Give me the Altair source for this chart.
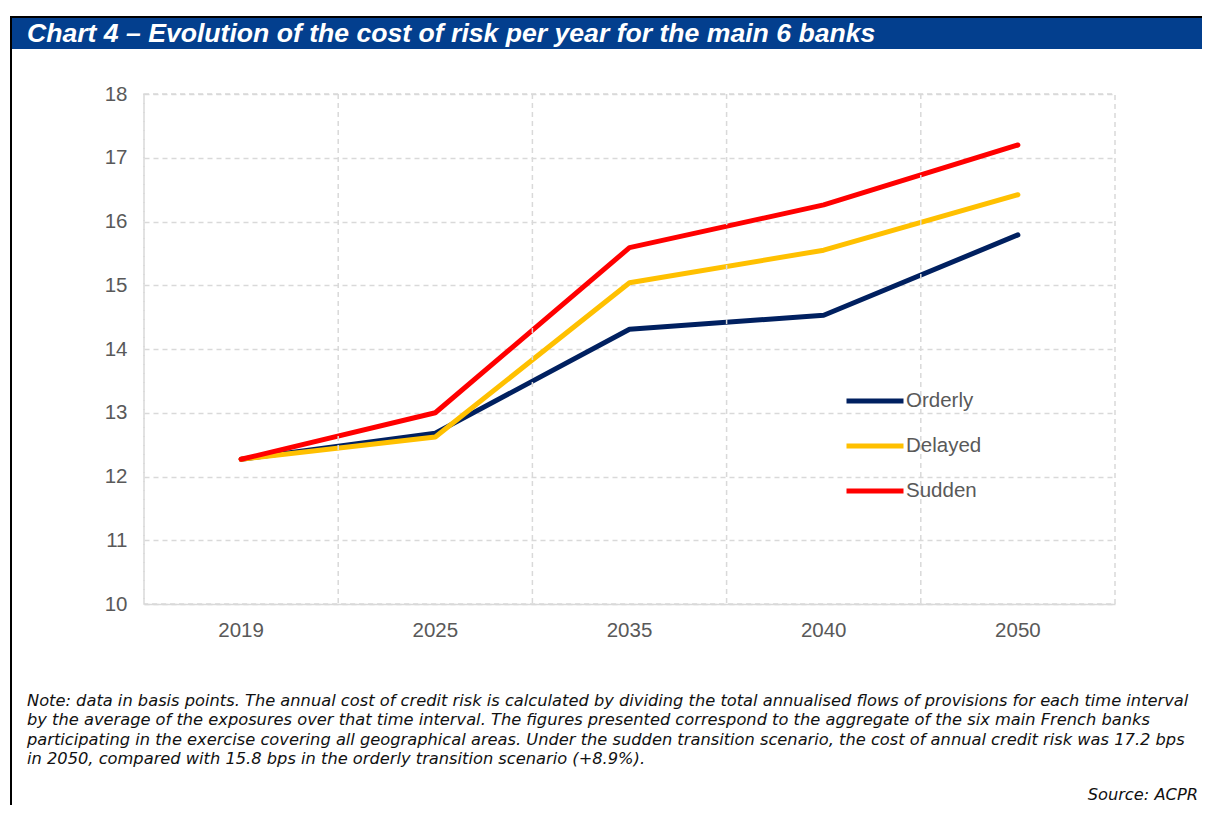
import altair as alt
import pandas as pd

years = ["2019", "2025", "2035", "2040", "2050"]
series = ["Orderly", "Delayed", "Sudden"]
orderly = [12.27, 12.68, 14.31, 14.53, 15.79]
delayed = [12.27, 12.62, 15.04, 15.55, 16.42]
sudden = [12.27, 13.00, 15.59, 16.26, 17.20]
colors = ["#002060", "#FFC000", "#FF0000"]
y_ticks = [10, 11, 12, 13, 14, 15, 16, 17, 18]

title_text = "Chart 4 \u2013 Evolution of the cost of risk per year for the main 6 banks"
note_lines = [
    "Note: data in basis points. The annual cost of credit risk is calculated by dividing the total annualised flows of provisions for each time interval",
    "by the average of the exposures over that time interval. The figures presented correspond to the aggregate of the six main French banks",
    "participating in the exercise covering all geographical areas. Under the sudden transition scenario, the cost of annual credit risk was 17.2 bps",
    "in 2050, compared with 15.8 bps in the orderly transition scenario (+8.9%).",
]
source_text = "Source: ACPR"

FONT = "Liberation Sans"
NOTE_FONT = "DejaVu Sans"
GRID = "#d9d9d9"
DASH = [5, 4]
LBL = "#595959"

rows = []
for name, vals in zip(series, [orderly, delayed, sudden]):
    for yr, v in zip(years, vals):
        rows.append({"year": yr, "value": v, "scenario": name})
df = pd.DataFrame(rows)
years_df = pd.DataFrame({"year": years})
one = pd.DataFrame({"k": [0]})

xscale = alt.Scale(type="band", domain=years, paddingInner=0, paddingOuter=0)
xaxis = alt.Axis(title=None, grid=False, ticks=False, domain=True,
                 domainColor=GRID, domainWidth=1.5,
                 labelFont=FONT, labelFontSize=20.5, labelColor=LBL,
                 labelPadding=16, labelAngle=0)

vgrid = alt.Chart(years_df).mark_rule(
    color=GRID, strokeDash=DASH, strokeWidth=1.5
).encode(
    x=alt.X("year:N", scale=xscale, bandPosition=0, axis=xaxis)
)

lines = alt.Chart(df).mark_line(strokeWidth=5, strokeCap="round", strokeJoin="round").encode(
    x=alt.X("year:N", scale=xscale, bandPosition=0.5, sort=years, axis=xaxis),
    y=alt.Y("value:Q", scale=alt.Scale(domain=[10, 18], nice=False, zero=False),
            axis=alt.Axis(title=None, values=y_ticks, grid=True, gridColor=GRID,
                          gridDash=DASH, gridWidth=1.5, ticks=False, domain=False,
                          labelFont=FONT, labelFontSize=20.5, labelColor=LBL,
                          labelPadding=17)),
    color=alt.Color("scenario:N", scale=alt.Scale(domain=series, range=colors),
                    legend=alt.Legend(title=None, orient="none", legendX=700, legendY=276,
                                      symbolType="stroke", symbolSize=3249,
                                      symbolStrokeWidth=5, labelFont=FONT,
                                      labelFontSize=20.5, labelColor=LBL,
                                      labelOffset=0, rowPadding=3)),
    order=alt.Order("year:N"),
)

bar = alt.Chart(one).mark_rect(color="#033F8E").encode(
    x=alt.value(-132), x2=alt.value(1070), y=alt.value(-76), y2=alt.value(-45)
)
topline = alt.Chart(one).mark_rect(color="#000000").encode(
    x=alt.value(-134), x2=alt.value(1070), y=alt.value(-78), y2=alt.value(-76)
)
leftline = alt.Chart(one).mark_rect(color="#000000").encode(
    x=alt.value(-134), x2=alt.value(-132), y=alt.value(-78), y2=alt.value(720)
)
title = alt.Chart(one).mark_text(
    text=title_text, font=FONT, fontSize=26.6, fontWeight="bold", fontStyle="italic",
    color="#ffffff", align="left", baseline="middle"
).encode(x=alt.value(-117), y=alt.value(-60))
notes = alt.Chart(one).mark_text(
    text=note_lines, font=NOTE_FONT, fontSize=16.25, fontStyle="italic", color="#111111",
    align="left", baseline="top", lineHeight=19.3
).encode(x=alt.value(-117), y=alt.value(599))
source = alt.Chart(one).mark_text(
    text=source_text, font=NOTE_FONT, fontSize=16.25, fontStyle="italic", color="#111111",
    align="right", baseline="middle"
).encode(x=alt.value(1054), y=alt.value(701))

chart = alt.layer(lines, vgrid, bar, topline, leftline, title, notes, source).properties(
    width=971, height=510,
    autosize=alt.AutoSizeParams(type="none"),
    padding={"left": 136, "top": 86, "right": 87, "bottom": 201},
    background="#ffffff",
).configure_view(stroke=GRID, strokeDash=DASH, strokeWidth=1.5)

chart.save("out.html", embed_options={"renderer": "svg", "actions": False})
